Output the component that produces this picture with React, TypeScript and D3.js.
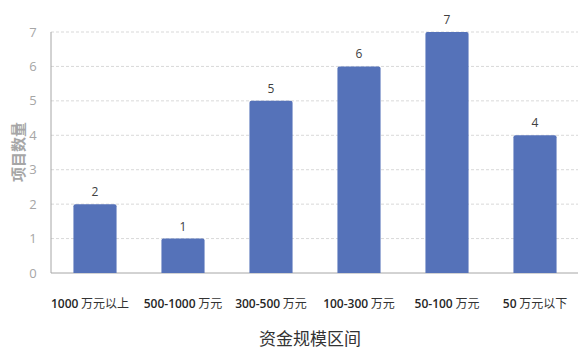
import React from "react";
import * as d3 from "d3";

const categories = ["1000 万元以上", "500-1000 万元", "300-500 万元", "100-300 万元", "50-100 万元", "50 万元以下"];
const values = [2, 1, 5, 6, 7, 4];
const yTicks = [0, 1, 2, 3, 4, 5, 6, 7];

export default function App() {
  const W = 582, H = 351;
  const left = 51, right = 579, top = 32, bottom = 273;
  const x = d3.scaleBand<string>().domain(categories).range([left, right]).paddingInner(0.51).paddingOuter(0.255);
  const y = d3.scaleLinear().domain([0, 7]).range([bottom, top]);
  const bw = x.bandwidth();
  const r = 2;
  const barPath = (x0: number, y0: number, w: number, h: number) => {
    const p = d3.path();
    p.moveTo(x0, y0 + h);
    p.lineTo(x0, y0 + r);
    p.quadraticCurveTo(x0, y0, x0 + r, y0);
    p.lineTo(x0 + w - r, y0);
    p.quadraticCurveTo(x0 + w, y0, x0 + w, y0 + r);
    p.lineTo(x0 + w, y0 + h);
    p.closePath();
    return p.toString();
  };
  return (
    <svg width={W} height={H} style={{ position: "absolute", left: 0, top: 0, background: "#fff" }}>
      {yTicks.filter(t => t > 0).map(t => (
        <line key={"g" + t} x1={left} x2={578} y1={y(t)} y2={y(t)} stroke="#d9d9d9" strokeWidth={1} strokeDasharray="3,2" />
      ))}
      <line x1={left} x2={left} y1={top} y2={bottom} stroke="#a6a6a6" strokeWidth={1} />
      <line x1={left} x2={578} y1={bottom} y2={bottom} stroke="#a6a6a6" strokeWidth={1} />
      {yTicks.map(t => (
        <text key={"t" + t} x={33} y={y(t)} dy="0.35em" textAnchor="middle" fontSize={13} fill="#a6a6a6" fontFamily="'Open Sans', 'Noto Sans', sans-serif">{t}</text>
      ))}
      <text transform={`translate(19,152) rotate(-90)`} textAnchor="middle" dy="0.35em" fontSize={15} fontWeight="bold" fill="#a6a6a6" fontFamily="'Noto Sans CJK SC', sans-serif">项目数量</text>
      {categories.map((c, i) => {
        const x0 = x(c)!;
        const y0 = y(values[i]);
        const sp = c.indexOf(" ");
        return (
          <g key={c}>
            <path d={barPath(x0, y0, bw, bottom - y0)} fill="#5572b9" />
            <text x={x0 + bw / 2} y={y0 - 8} textAnchor="middle" fontSize={12} fill="#404040" fontFamily="'Open Sans', 'Noto Sans', sans-serif">{values[i]}</text>
            <text x={x0 + bw / 2 - (i === 0 ? 5 : 0)} y={308} textAnchor="middle" fontSize={12} fill="#262626" fontFamily="'Open Sans', 'Noto Sans CJK SC', sans-serif">
              <tspan fontWeight="600">{c.slice(0, sp)}</tspan>
              <tspan fontFamily="'Noto Sans CJK SC', sans-serif" fill="#333">{c.slice(sp)}</tspan>
            </text>
          </g>
        );
      })}
      <text x={310} y={345} textAnchor="middle" fontSize={17} fill="#333" fontFamily="'Noto Sans CJK SC', sans-serif">资金规模区间</text>
    </svg>
  );
}
